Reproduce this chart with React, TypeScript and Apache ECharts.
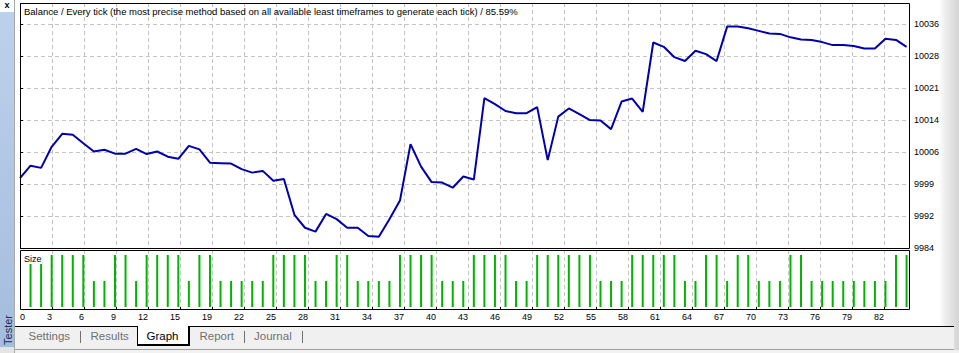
import React, { useEffect, useRef } from 'react';
import * as echarts from 'echarts';

// Balance after each trade (index 0 = start)
const balance = [
  10000.2, 10003.1, 10002.6, 10007.5, 10010.5, 10010.3, 10008.3, 10006.4, 10006.8, 10005.9,
  10005.9, 10007.0, 10005.8, 10006.4, 10005.2, 10004.7, 10007.7, 10006.9, 10003.8, 10003.7,
  10003.6, 10002.3, 10001.5, 10001.9, 9999.6, 10000.0, 9991.7, 9988.7, 9987.8, 9991.9,
  9990.7, 9988.7, 9988.7, 9986.8, 9986.6, 9990.7, 9995.0, 10008.1, 10002.9, 9999.3,
  9999.2, 9998.0, 10000.6, 9999.9, 10018.8, 10017.4, 10015.8, 10015.3, 10015.3, 10016.7,
  10004.4, 10014.5, 10016.4, 10015.1, 10013.7, 10013.6, 10011.6, 10018.0, 10018.7, 10015.6,
  10031.7, 10030.7, 10028.3, 10027.4, 10029.8, 10029.0, 10027.4, 10035.4, 10035.4, 10035.0,
  10034.4, 10033.8, 10033.7, 10032.9, 10032.4, 10032.3, 10031.8, 10031.1, 10031.1, 10030.9,
  10030.3, 10030.3, 10032.6, 10032.3, 10030.7,
];

// Lot size of trades 1..84
const lots = [
  0.02, 0.02, 0.02, 0.02, 0.02, 0.02, 0.01, 0.01, 0.02, 0.02,
  0.01, 0.02, 0.02, 0.02, 0.02, 0.01, 0.02, 0.02, 0.01, 0.01,
  0.01, 0.01, 0.01, 0.02, 0.02, 0.02, 0.02, 0.01, 0.01, 0.02,
  0.02, 0.01, 0.01, 0.01, 0.01, 0.02, 0.02, 0.02, 0.02, 0.01,
  0.01, 0.01, 0.02, 0.02, 0.02, 0.02, 0.01, 0.01, 0.02, 0.02,
  0.02, 0.02, 0.02, 0.02, 0.01, 0.01, 0.01, 0.02, 0.02, 0.02,
  0.02, 0.02, 0.01, 0.01, 0.02, 0.02, 0.01, 0.02, 0.02, 0.01,
  0.01, 0.01, 0.02, 0.02, 0.01, 0.01, 0.01, 0.01, 0.01, 0.01,
  0.01, 0.01, 0.02, 0.02,
];

const xTickLabels = ['0', '3', '6', '9', '12', '15', '19', '22', '25', '28', '31', '34', '37', '40', '43', '46', '49', '52', '55', '58', '61', '64', '67', '70', '73', '76', '79', '82'];
const yTickLabels = ['9984', '9992', '9999', '10006', '10014', '10021', '10028', '10036'];

const titleText = 'Balance / Every tick (the most precise method based on all available least timeframes to generate each tick) / 85.59%';
const sizeText = 'Size';
const sideText = 'Tester';
const tabs = ['Settings', 'Results', 'Graph', 'Report', 'Journal'];
const activeTab = 'Graph';

const FONT = '"Liberation Sans", Arial, sans-serif';
const GRID_C = '#C4C4C4';

const X_MAX = 84.23;
const X_INT = (32 * X_MAX) / 889;
const Y_MIN = 9984;
const Y_INT = 52 / 7;
const Y_MAX = Y_MIN + (Y_INT * 245) / 32;
const S_MIN = -2 / 2600;
const S_MAX = 0.02 + 5 / 2600;

function xFmt(v: number) {
  const k = Math.round(v / X_INT);
  if (Math.abs(v - k * X_INT) > 0.01) return '';
  return xTickLabels[k] ?? '';
}
function yFmt(v: number) {
  const k = Math.round((v - Y_MIN) / Y_INT);
  if (Math.abs(v - (Y_MIN + k * Y_INT)) > 0.01) return '';
  return yTickLabels[k] ?? '';
}

const tabPos: Record<string, number> = { Settings: 28.5, Results: 90.5, Graph: 146.5, Report: 199.5, Journal: 254 };
const sepPos = [80.5, 244.5, 302.5];

export default function App() {
  const ref = useRef<HTMLDivElement>(null);
  useEffect(() => {
    if (!ref.current) return;
    const chart = echarts.init(ref.current, null, { renderer: 'svg' });
    const dashed = { show: true, lineStyle: { color: GRID_C, type: [4, 3], width: 1 } };

    const graphic: any[] = [
      // right gray strip
      {
        type: 'rect', z: 0, shape: { x: 939, y: 0, width: 20, height: 353 },
        style: { fill: new echarts.graphic.LinearGradient(0, 0, 1, 0, [
          { offset: 0, color: '#ffffff' }, { offset: 0.3, color: '#eeeeee' }, { offset: 1, color: '#d4d4d4' },
        ]) },
      },
      // left sidebar
      {
        type: 'rect', z: 0, shape: { x: 0, y: 12, width: 14, height: 335 },
        style: { fill: new echarts.graphic.LinearGradient(0, 0, 0, 1, [
          { offset: 0, color: '#BCD1EB' }, { offset: 1, color: '#A4BDDD' },
        ]) },
      },
      { type: 'rect', z: 0, shape: { x: 0, y: 347, width: 15, height: 6 }, style: { fill: '#E4E4E4' } },
      { type: 'line', z: 1, shape: { x1: 14.5, y1: 0, x2: 14.5, y2: 353 }, style: { stroke: '#A8A8A8', lineWidth: 1 } },
      {
        type: 'text', z: 5, x: 7, y: 0,
        style: { text: 'x', font: `bold 9px ${FONT}`, fill: '#000', align: 'center', verticalAlign: 'top' },
      },
      {
        type: 'text', z: 5, x: 8, y: 330, rotation: Math.PI / 2,
        style: { text: sideText, font: `11px ${FONT}`, fill: '#1C2C5C', align: 'center', verticalAlign: 'middle' },
      },
      // tab strip
      { type: 'rect', z: 0, shape: { x: 15, y: 327, width: 939, height: 22 }, style: { fill: '#F0F0F0' } },
      { type: 'rect', z: 0, shape: { x: 15, y: 350, width: 944, height: 3 }, style: { fill: '#F2F2F2' } },
      { type: 'line', z: 1, shape: { x1: 15, y1: 349.5, x2: 954, y2: 349.5 }, style: { stroke: '#A0A0A0', lineWidth: 1 } },
      { type: 'line', z: 2, shape: { x1: 15, y1: 326.5, x2: 137, y2: 326.5 }, style: { stroke: '#000', lineWidth: 1 } },
      { type: 'line', z: 2, shape: { x1: 189, y1: 326.5, x2: 954, y2: 326.5 }, style: { stroke: '#000', lineWidth: 1 } },
      { type: 'rect', z: 2, shape: { x: 137, y: 326, width: 52, height: 19 }, style: { fill: '#ffffff' } },
      { type: 'line', z: 3, shape: { x1: 137.5, y1: 326, x2: 137.5, y2: 345 }, style: { stroke: '#000', lineWidth: 1 } },
      { type: 'line', z: 3, shape: { x1: 137, y1: 345, x2: 190, y2: 345 }, style: { stroke: '#000', lineWidth: 2 } },
      { type: 'line', z: 3, shape: { x1: 189, y1: 326, x2: 189, y2: 346 }, style: { stroke: '#000', lineWidth: 2 } },
      ...sepPos.map((x) => ({
        type: 'line', z: 3, shape: { x1: x, y1: 331, x2: x, y2: 343 }, style: { stroke: '#707070', lineWidth: 1 },
      })),
      ...tabs.map((t) => ({
        type: 'text', z: 4, x: tabPos[t], y: 336,
        style: { text: t, font: `11.5px ${FONT}`, fill: t === activeTab ? '#000000' : '#707070', align: 'left', verticalAlign: 'middle' },
      })),
      // title
      {
        type: 'text', z: 20, x: 24, y: 11.5,
        style: { text: titleText, font: `9.5px ${FONT}`, fill: '#000', align: 'left', verticalAlign: 'middle' },
      },
      // frames
      { type: 'rect', z: 30, shape: { x: 20.5, y: 3.5, width: 889, height: 245 }, style: { fill: 'none', stroke: '#000', lineWidth: 1 } },
      { type: 'rect', z: 30, shape: { x: 20.5, y: 250.5, width: 889, height: 59 }, style: { fill: 'none', stroke: '#000', lineWidth: 1 } },
      // Size label
      { type: 'rect', z: 40, shape: { x: 22, y: 253, width: 20, height: 11 }, style: { fill: '#ffffff' } },
      {
        type: 'text', z: 41, x: 24, y: 258.5,
        style: { text: sizeText, font: `9px ${FONT}`, fill: '#000', align: 'left', verticalAlign: 'middle' },
      },
    ];

    chart.setOption({
      animation: false,
      backgroundColor: '#ffffff',
      textStyle: { fontFamily: FONT },
      grid: [
        { left: 20, top: 3, width: 889, height: 245, show: false, containLabel: false, outerBoundsMode: 'none' },
        { left: 20, top: 250, width: 889, height: 59, show: false, containLabel: false, outerBoundsMode: 'none' },
      ],
      xAxis: [
        {
          type: 'value', gridIndex: 0, min: 0, max: X_MAX, interval: X_INT,
          axisLine: { show: false }, axisTick: { show: false }, axisLabel: { show: false },
          splitLine: dashed,
        },
        {
          type: 'value', gridIndex: 1, min: 0, max: X_MAX, interval: X_INT, position: 'bottom',
          axisLine: { show: false },
          axisTick: { show: true, inside: false, length: 2, lineStyle: { color: '#000', width: 1 } },
          axisLabel: {
            show: true, margin: 3, fontSize: 9, fontFamily: FONT, color: '#000',
            align: 'right', alignMinLabel: 'left', formatter: xFmt,
          },
          splitLine: dashed,
        },
      ],
      yAxis: [
        {
          type: 'value', gridIndex: 0, position: 'right', min: Y_MIN, max: Y_MAX, interval: Y_INT,
          axisLine: { show: false },
          axisTick: { show: true, inside: false, length: 3, lineStyle: { color: '#000', width: 1 } },
          axisLabel: { show: true, margin: 5, fontSize: 9, fontFamily: FONT, color: '#000', formatter: yFmt },
          splitLine: dashed,
        },
        { type: 'value', gridIndex: 1, min: S_MIN, max: S_MAX, show: false, splitLine: { show: false } },
      ],
      series: [
        {
          type: 'line', xAxisIndex: 0, yAxisIndex: 0, z: 10,
          data: balance.map((v, i) => [i, v]),
          symbol: 'none', showSymbol: false,
          lineStyle: { color: '#0000AA', width: 2 },
        },
        {
          type: 'bar', xAxisIndex: 1, yAxisIndex: 1, z: 10,
          data: lots.map((v, i) => [i + 1, v]),
          barWidth: 2,
          itemStyle: { color: '#00B400' },
        },
      ],
      graphic,
    });
    return () => chart.dispose();
  }, []);
  return <div ref={ref} style={{ position: 'absolute', left: 0, top: 0, width: 959, height: 353 }} />;
}
